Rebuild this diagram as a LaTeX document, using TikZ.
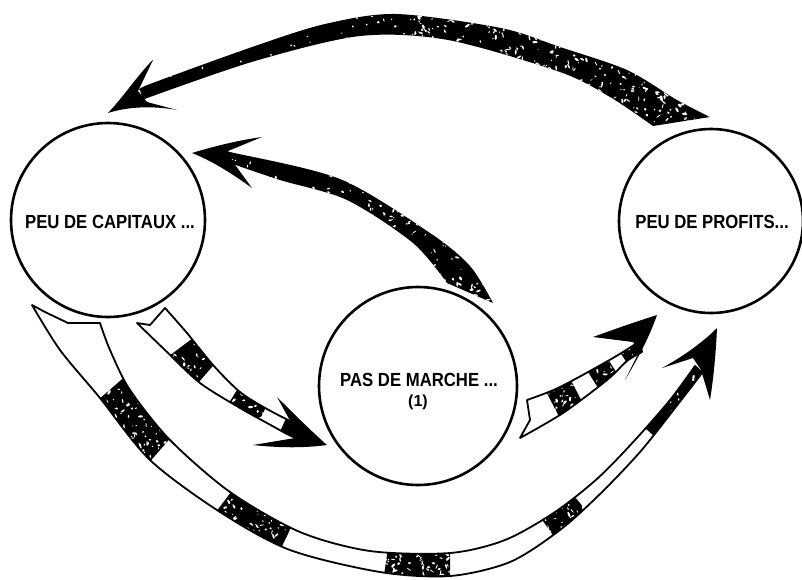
\documentclass[tikz,border=0pt]{standalone}
\usepackage{fontspec}
\setmainfont{Liberation Sans}
\usetikzlibrary{calc}

% grain: scatter white specks over a box (x, y, width, height, count, max size)
\newcommand\grain[6]{%
  \foreach \k in {1,...,#5}{%
    \pgfmathsetmacro\gx{#1+rnd*#3}%
    \pgfmathsetmacro\gy{#2+rnd*#4}%
    \pgfmathsetmacro\ga{0.5+rnd*#6}%
    \pgfmathsetmacro\gb{0.4+rnd*0.9}%
    \pgfmathsetmacro\gt{rnd*180}%
    \fill[white, rotate around={\gt:(\gx,\gy)}] (\gx,\gy) ellipse[x radius=\ga, y radius=\gb];}}

\tikzset{
  ring/.style={circle, draw=black, line width=2.6pt, inner sep=0pt},
  lab/.style={font=\fontsize{19}{22}\selectfont\bfseries, align=center},
  edge/.style={draw=black, line width=1.8pt, line join=round},
}

\begin{document}
\begin{tikzpicture}[x=1pt, y=-1pt]
\pgfmathsetseed{4711}
\useasboundingbox (0,0) rectangle (802,579);
\fill[white] (0,0) rectangle (802,579);

% the three stages of the cycle
\node[ring, minimum size=194pt] (cap) at (108,220) {};
\node[ring, minimum size=184pt] (pro) at (711,221) {};
\node[ring, minimum size=198pt] (mar) at (418,386) {};
\node[lab] (capt) at (110,222) {\scalebox{0.88}[1]{PEU DE CAPITAUX ...}};
\node[lab] (prot) at (712,222) {\scalebox{0.88}[1]{PEU DE PROFITS...}};
\node[lab] (mart) at (419,380) {\scalebox{0.88}[1]{PAS DE MARCHE ...}};
\node[lab, font=\fontsize{16}{18}\selectfont\bfseries] (marn) at (418,402) {(1)};

% ---- top arrow: profits back to capital (solid, grainy) ----
\def\topband{plot[smooth] coordinates {(140,90) (150,84) (255,46) (325,24) (396,14) (501,28) (560,47) (627,70) (677,100) (710,117)}
  -- plot[smooth] coordinates {(653,126) (610,97) (560,72) (448,40) (360,36) (255,61) (150,97) (143,101)} -- cycle}
\fill \topband;
\begin{scope}
  \clip \topband;
  \grain{140}{10}{300}{100}{140}{1.4}
  \grain{400}{10}{310}{120}{700}{2.3}
\end{scope}
\fill (108,113) .. controls (125,95) and (140,72) .. (153,60) -- (138,91) -- (147,102)
  -- (177,110) .. controls (155,106) and (130,106) .. cycle;

% ---- middle arrow: market back to capital (solid, grainy) ----
\def\midband{plot[smooth] coordinates {(226,151) (230,152) (340,179) (430,233) (470,266) (493,303)}
  -- plot[smooth] coordinates {(447,283) (413,243) (347,200) (280,180) (230,163) (228,162)} -- cycle}
\fill \midband;
\begin{scope}
  \clip \midband;
  \grain{226}{150}{150}{70}{60}{1.4}
  \grain{360}{180}{140}{125}{260}{2.1}
\end{scope}
\fill (192,153) .. controls (215,146) and (240,140) .. (262,137) -- (228,151) -- (233,162)
  -- (252,188) .. controls (230,172) and (210,160) .. cycle;

% ---- striped arrow: capital to market ----
\def\capband{plot[smooth] coordinates {(165,308) (187,333) (213,365) (240,392) (267,409) (296,424)}
  -- plot[smooth] coordinates {(300,440) (287,434) (267,423) (240,408) (200,383) (167,352) (137,323)} -- (150,325) -- cycle}
\fill[white] \capband;
\begin{scope}
  \clip \capband;
  \fill (153,368) -- (201,332) -- (225,352) -- (185,398) -- cycle;
  \fill (216,424) -- (248,372) -- (276,388) -- (248,442) -- cycle;
  \fill (271,452) -- (295,398) -- (330,400) -- (330,460) -- cycle;
  \grain{140}{305}{165}{140}{320}{2.0}
\end{scope}
\draw[edge] \capband;
\fill (327,445) .. controls (310,430) and (290,410) .. (277,397) -- (293,426) -- (295,438)
  -- (253,445) .. controls (280,448) and (305,448) .. cycle;

% ---- striped arrow: market to profits ----
\def\marband{plot[smooth] coordinates {(527,400) (560,387) (613,358) (640,341)}
  -- plot[smooth] coordinates {(642,352) (627,361) (607,380) (563,413) (520,438)} -- (530,420) -- cycle}
\fill[white] \marband;
\begin{scope}
  \clip \marband;
  \fill (538,376) -- (563,365) -- (591,419) -- (566,430) -- cycle;
  \fill (577,355) -- (597,342) -- (629,392) -- (609,405) -- cycle;
  \fill (609,335) -- (660,300) -- (690,350) -- (641,385) -- cycle;
  \grain{520}{335}{125}{105}{240}{2.0}
\end{scope}
\draw[edge] \marband;
\fill (657,315) .. controls (635,322) and (612,330) .. (593,337) -- (633,342) -- (640,350)
  -- (625,380) .. controls (640,355) and (650,335) .. cycle;

% ---- long striped arrow: capital to profits ----
\def\lowband{plot[smooth] coordinates {(32,305) (60,350) (100,398) (150,460) (220,512) (290,550) (380,572) (450,576) (510,562) (560,530) (600,494) (640,452) (675,408) (702,373)}
  -- plot[smooth] coordinates {(695,366) (670,400) (635,440) (598,478) (555,512) (505,540) (450,553) (370,551) (300,532) (230,492) (170,440) (130,390) (110,350) (100,323)}
  -- (68,323) -- (45,312) -- cycle}
\fill[white] \lowband;
\begin{scope}
  \clip \lowband;
  \fill (90,407) -- (136,367) -- (180,427) -- (140,473) -- cycle;
  \fill (207,524) -- (243,476) -- (298,513) -- (272,567) -- cycle;
  \fill (381,595) -- (390,535) -- (450,535) -- (450,595) -- cycle;
  \fill (535,510) -- (565,552) -- (598,525) -- (566,486) -- cycle;
  \fill (636,420) -- (690,330) -- (740,370) -- (679,458) -- cycle;
  \grain{85}{360}{100}{115}{230}{2.2}
  \grain{205}{475}{95}{95}{180}{2.2}
  \grain{380}{535}{72}{45}{110}{2.2}
  \grain{535}{485}{65}{70}{120}{2.4}
  \grain{630}{325}{95}{135}{200}{2.0}
\end{scope}
\draw[edge] \lowband;
\fill (717,328) .. controls (700,345) and (680,358) .. (662,368) -- (693,358) -- (701,370)
  -- (710,400) .. controls (714,375) and (716,350) .. cycle;
\end{tikzpicture}
\end{document}
